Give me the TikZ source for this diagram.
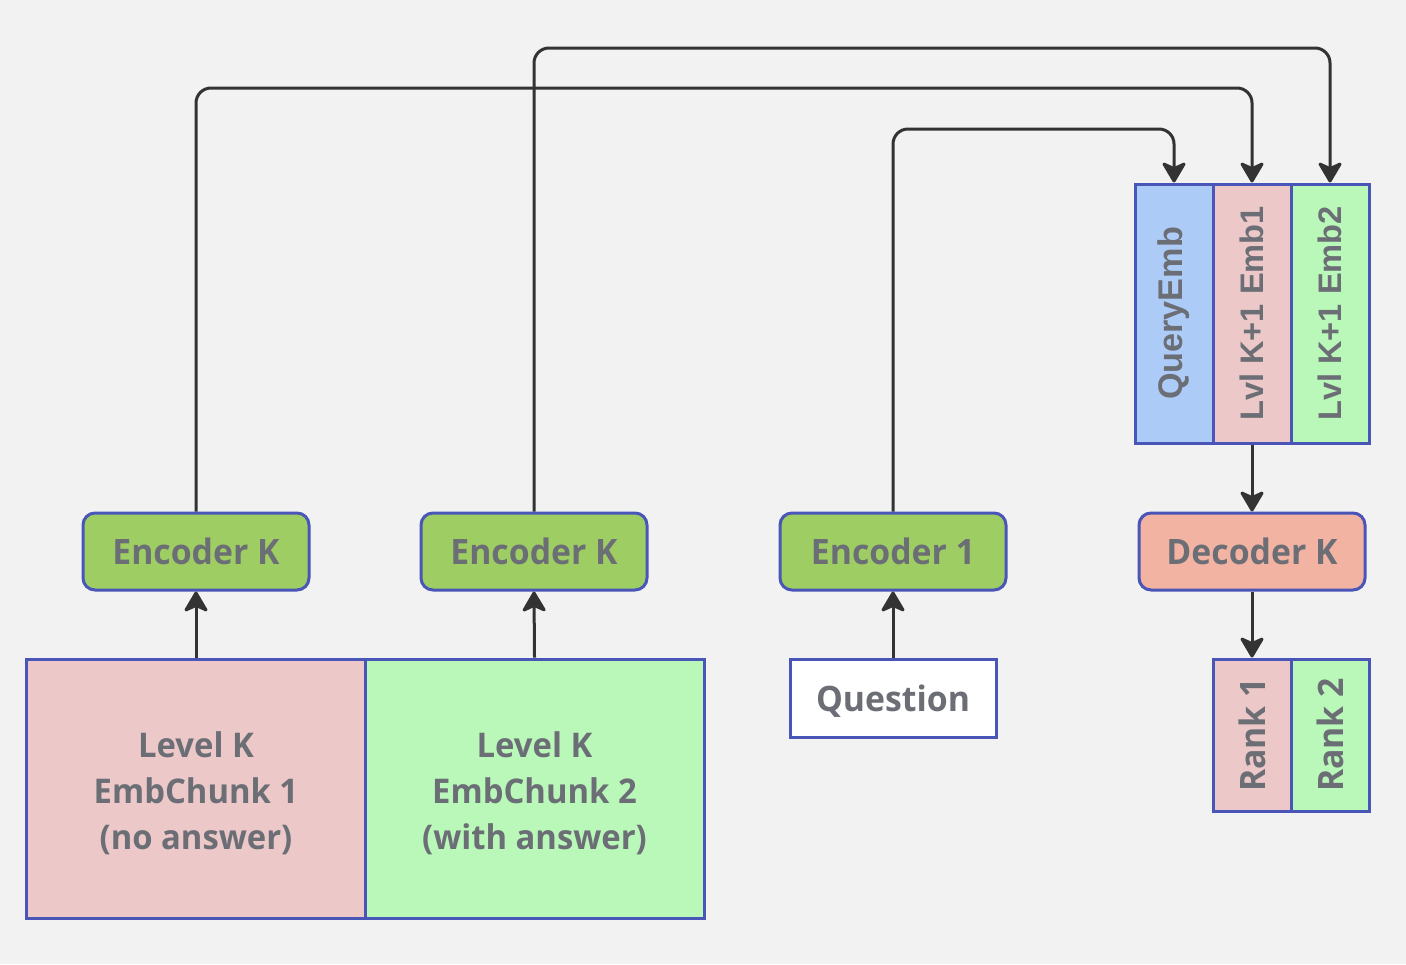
\documentclass[tikz,border=0pt]{standalone}
\usepackage{fontspec}
\setmainfont{Open Sans}[FakeStretch=0.965]
\newfontfamily\arialfont{Liberation Sans}
\usetikzlibrary{arrows.meta}
\definecolor{bg}{HTML}{F2F2F2}
\definecolor{bord}{HTML}{4A55B8}
\definecolor{txt}{HTML}{6C6E76}
\definecolor{encg}{HTML}{9ECE63}
\definecolor{decr}{HTML}{F3B3A3}
\definecolor{pinkc}{HTML}{ECC8C8}
\definecolor{greenc}{HTML}{B9F8B9}
\definecolor{bluec}{HTML}{ADCBF7}
\definecolor{arr}{HTML}{333333}
\newcommand{\chunktext}[3]{\raisebox{-3pt}[\height][\depth]{\begin{tabular}{@{}c@{}}#1\\#2\\#3\end{tabular}}}
\tikzset{
  box/.style={draw=bord, line width=1.5pt, inner sep=0pt, text=txt, font=\bfseries\fontsize{17.5}{21}\selectfont},
  enc/.style={box, fill=encg, rounded corners=6pt, minimum width=113pt, minimum height=38.5pt},
  vbox/.style={box, rotate=90, minimum width=129.5pt, minimum height=39pt, font=\arialfont\bfseries\fontsize{16.3}{21}\selectfont},
  rbox/.style={box, rotate=90, minimum width=76pt, minimum height=39pt},
  chunk/.style={box, minimum width=169.5pt, minimum height=129.5pt, font=\bfseries\fontsize{17}{23}\selectfont},
  conn/.style={draw=arr, line width=1.5pt, rounded corners=7.5pt, -{Stealth[length=11.5pt,width=13.5pt,inset=3pt,round]}}
}
\begin{document}
\begin{tikzpicture}[x=0.5pt,y=-0.5pt]
\fill[bg] (0,0) rectangle (1406,964);
\useasboundingbox (0,0) rectangle (1406,964);
% top stack
\node[vbox, fill=bluec, font=\arialfont\bfseries\fontsize{17.1}{21}\selectfont] (qe) at (1174,313.5) {QueryEmb};
\node[vbox, fill=pinkc] (e1) at (1252,313.5) {Lvl K+1 Emb1};
\node[vbox, fill=greenc] (e2) at (1330,313.5) {Lvl K+1 Emb2};
% encoders / decoder
\node[enc] (enc1) at (196,551.5) {Encoder K};
\node[enc] (enc2) at (534,551.5) {Encoder K};
\node[enc] (encq) at (893,551.5) {Encoder 1};
\node[enc, fill=decr] (dec) at (1252,551.5) {Decoder K};
% chunks
\node[chunk, fill=pinkc] (c1) at (196,788.5) {\chunktext{Level K}{EmbChunk 1}{(no answer)}};
\node[chunk, fill=greenc] (c2) at (534.5,788.5) {\chunktext{Level K}{EmbChunk 2}{(with answer)}};
\node[box, fill=white, minimum width=103pt, minimum height=39pt] (q) at (893,698) {\raisebox{-1.5pt}[\height][\depth]{Question}};
% ranks
\node[rbox, fill=pinkc] (r1) at (1252,735) {Rank 1};
\node[rbox, fill=greenc] (r2) at (1330,735) {Rank 2};
% connectors
\draw[conn] (c1.north) -- (enc1.south);
\draw[conn] (c2.north) -- (enc2.south);
\draw[conn] (q.north) -- (encq.south);
\draw[conn] (enc1.north) -- (enc1.north |- 0,88) -- (e1.east |- 0,88) -- (e1.east);
\draw[conn] (enc2.north) -- (enc2.north |- 0,48) -- (e2.east |- 0,48) -- (e2.east);
\draw[conn] (encq.north) -- (encq.north |- 0,129) -- (qe.east |- 0,129) -- (qe.east);
\draw[conn] (e1.west) -- (dec.north);
\draw[conn] (dec.south) -- (r1.east);
\end{tikzpicture}
\end{document}
